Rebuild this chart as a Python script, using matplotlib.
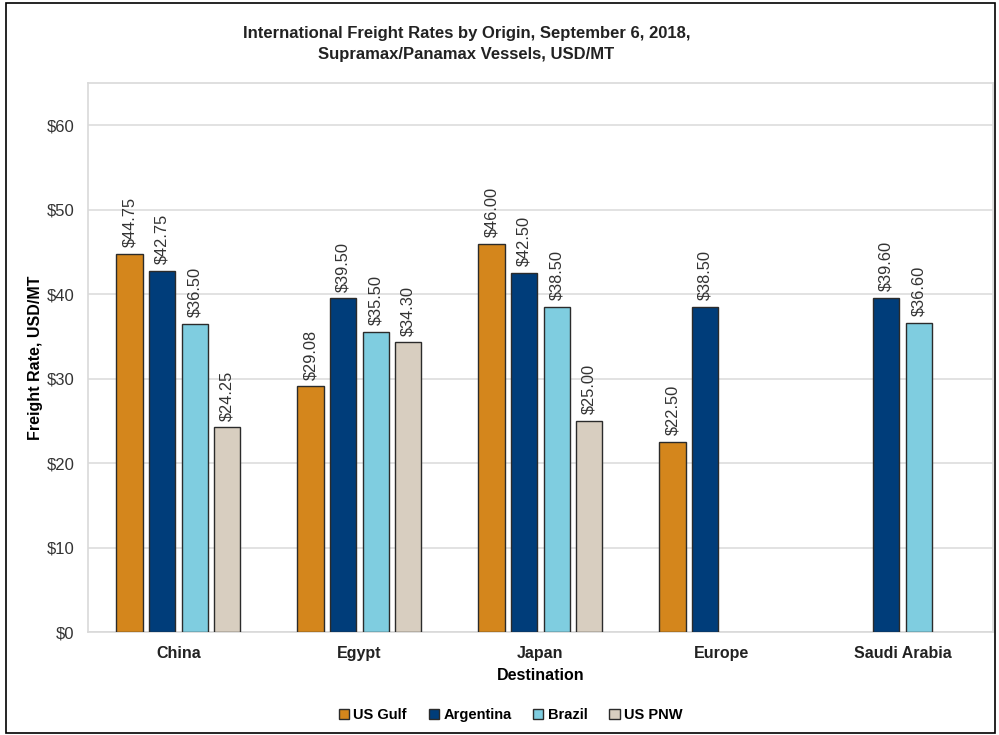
import numpy as np
import matplotlib.pyplot as plt
from matplotlib.patches import Rectangle

plt.rcParams["font.family"] = ["Liberation Sans", "DejaVu Sans"]

destinations = ["China", "Egypt", "Japan", "Europe", "Saudi Arabia"]
origins = ["US Gulf", "Argentina", "Brazil", "US PNW"]
us_gulf = [44.75, 29.08, 46.00, 22.50, np.nan]
argentina = [42.75, 39.50, 42.50, 38.50, 39.60]
brazil = [36.50, 35.50, 38.50, np.nan, 36.60]
us_pnw = [24.25, 34.30, 25.00, np.nan, np.nan]
colors = ["#D4861C", "#003D7A", "#7FCDE0", "#D8CEC0"]

series = [us_gulf, argentina, brazil, us_pnw]

fig = plt.figure(figsize=(9.99, 7.35), dpi=100)
ax = fig.add_axes([0.088, 0.140, 0.906, 0.747])

x = np.arange(len(destinations))
step = 0.18
width = 0.145
for i in range(len(series)):
    vals = np.array(series[i], dtype=float)
    pos = x + (i - 1.5) * step
    ok = ~np.isnan(vals)
    bars = ax.bar(pos[ok], vals[ok], width, color=colors[i], edgecolor="#2b2b2b",
                  linewidth=1.0, label=origins[i], zorder=3)
    for b, v in zip(bars, vals[ok]):
        ax.text(b.get_x() + b.get_width() / 2, v + 0.8, "$%.2f" % v, rotation=90,
                ha="center", va="bottom", fontsize=11.8, color="#333333")

ax.set_xlim(-0.5, 4.5)
ax.set_ylim(0, 65)
ax.set_yticks(np.arange(0, 61, 10))
ax.set_yticklabels(["$%d" % t for t in range(0, 61, 10)], fontsize=12, color="#333333")
ax.set_xticks(x)
ax.set_xticklabels(destinations, fontsize=11.5, fontweight="bold", color="#222222")
ax.tick_params(length=0, pad=10)
ax.tick_params(axis="y", pad=9.5)
ax.grid(axis="y", color="#dddddd", linewidth=1.2, zorder=0)
for s in ax.spines.values():
    s.set_color("#d9d9d9")
    s.set_linewidth(1.2)

ax.set_ylabel("Freight Rate, USD/MT", fontsize=11.5, fontweight="bold", labelpad=3)
ax.set_xlabel("Destination", fontsize=11.5, fontweight="bold", labelpad=5)
fig.suptitle("International Freight Rates by Origin, September 6, 2018,\nSupramax/Panamax Vessels, USD/MT",
             x=0.467, y=0.964, fontsize=12, fontweight="bold", color="#222222", linespacing=1.45)

leg = ax.legend(loc="upper center", bbox_to_anchor=(0.467, -0.114), ncol=4, frameon=False,
                handlelength=0.7, handleheight=0.7, handletextpad=0.3, columnspacing=1.5,
                prop={"weight": "bold", "size": 10.5})

fig.patches.append(Rectangle((0.006, 0.003), 0.99, 0.993, transform=fig.transFigure,
                             fill=False, edgecolor="black", linewidth=1.2))

fig.savefig("out.png", dpi=100)
